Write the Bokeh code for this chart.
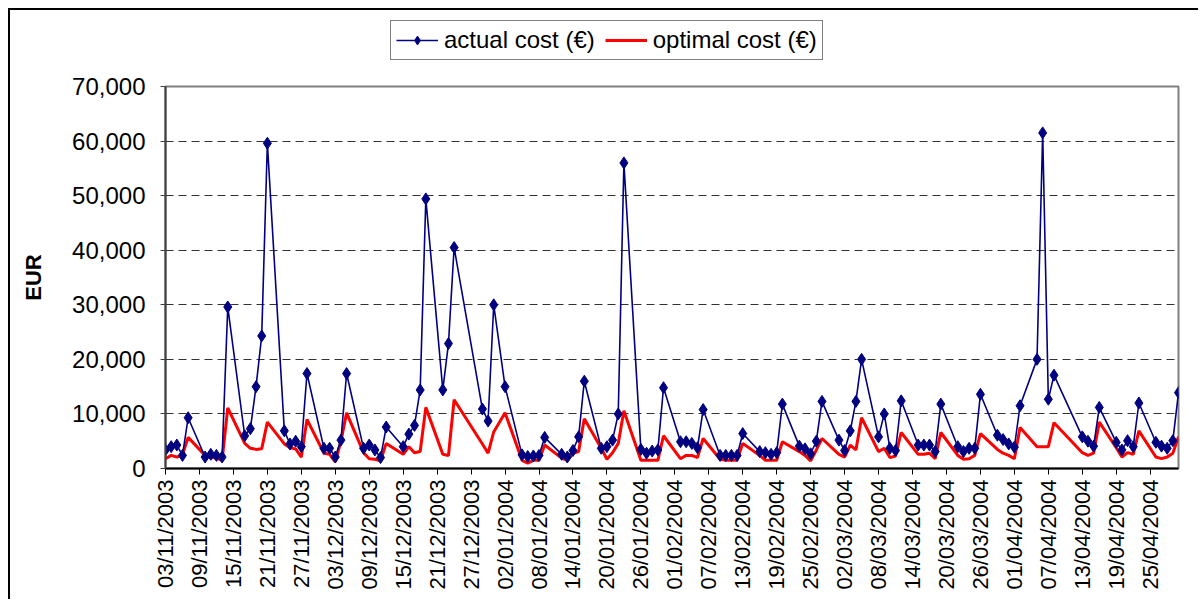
import pandas as pd
from math import pi
from bokeh.plotting import figure
from bokeh.layouts import column
from bokeh.models import (Range1d, FixedTicker, NumeralTickFormatter, Legend, LegendItem,
                          ColumnDataSource)
from bokeh.embed import file_html
from bokeh.resources import INLINE

# ---------------- data ----------------
start_date = "2003-11-03"
end_date = "2004-04-30"
holidays = ["2003-12-25", "2003-12-26", "2004-01-01", "2004-04-09", "2004-04-12"]

tick_labels = ["03/11/2003", "09/11/2003", "15/11/2003", "21/11/2003", "27/11/2003",
               "03/12/2003", "09/12/2003", "15/12/2003", "21/12/2003", "27/12/2003",
               "02/01/2004", "08/01/2004", "14/01/2004", "20/01/2004", "26/01/2004",
               "01/02/2004", "07/02/2004", "13/02/2004", "19/02/2004", "25/02/2004",
               "02/03/2004", "08/03/2004", "14/03/2004", "20/03/2004", "26/03/2004",
               "01/04/2004", "07/04/2004", "13/04/2004", "19/04/2004", "25/04/2004"]

# actual cost (thousand EUR), one value per working day
actual_k = [
    3.4, 4.0, 4.3, 2.4, 9.3,
    2.1, 2.6, 2.4, 2.1, 29.6,
    6.0, 7.3, 15.0, 24.3, 59.6,
    6.9, 4.5, 5.0, 4.0, 17.4,
    3.7, 3.7, 2.1, 5.2, 17.4,
    3.7, 4.3, 3.4, 2.0, 7.6,
    4.0, 6.3, 7.9, 14.4, 49.4,
    14.4, 22.9, 40.5,
    10.9, 8.7, 30.0, 15.0,
    2.5, 2.2, 2.3, 2.4, 5.7,
    2.6, 2.1, 3.3, 5.8, 16.0,
    3.7, 4.0, 5.2, 10.0, 56.0,
    3.5, 2.8, 3.2, 3.4, 14.8,
    4.9, 4.9, 4.6, 3.8, 10.8,
    2.4, 2.4, 2.4, 2.4, 6.4,
    3.1, 2.9, 2.6, 2.9, 11.8,
    4.1, 3.6, 2.7, 5.0, 12.3,
    5.2, 3.3, 6.9, 12.3, 20.0,
    5.8, 10.0, 3.7, 3.3, 12.4,
    4.3, 4.3, 4.3, 3.1, 11.8,
    4.0, 3.1, 3.7, 3.7, 13.6,
    6.1, 5.3, 4.5, 3.9, 11.5,
    20.0, 61.5, 12.7, 17.1,
    5.8, 5.0, 4.1, 11.2,
    4.8, 3.4, 5.1, 4.0, 12.0,
    4.8, 4.1, 3.7, 5.1, 13.9,
]

# optimal cost (thousand EUR)
optimal_k = [
    1.8, 2.4, 2.1, 2.5, 5.7,
    2.4, 2.0, 1.9, 1.5, 11.1,
    4.6, 3.7, 3.5, 3.6, 8.5,
    4.5, 3.8, 3.6, 2.1, 9.0,
    2.8, 2.6, 1.2, 5.0, 10.2,
    2.9, 1.8, 1.7, 1.4, 4.6,
    2.6, 4.0, 2.9, 3.1, 11.2,
    2.6, 2.4, 12.6,
    4.5, 2.8, 6.7, 10.2,
    1.5, 1.0, 1.5, 1.5, 4.3,
    1.9, 1.5, 2.8, 3.1, 9.1,
    3.7, 1.7, 2.9, 4.6, 10.6,
    1.5, 1.5, 1.5, 1.5, 6.0,
    1.8, 2.4, 2.4, 2.0, 5.5,
    1.7, 1.5, 1.5, 1.5, 4.6,
    2.4, 1.5, 1.5, 1.5, 4.9,
    3.1, 2.4, 1.4, 3.4, 5.5,
    2.6, 2.1, 4.3, 3.4, 9.3,
    3.1, 3.7, 2.0, 2.3, 6.6,
    2.6, 2.6, 2.8, 1.8, 6.6,
    2.4, 1.7, 1.8, 2.4, 6.4,
    3.5, 2.8, 2.4, 1.8, 7.5,
    4.0, 4.0, 4.0, 8.4,
    2.9, 2.4, 2.8, 8.5,
    3.8, 2.1, 2.9, 2.6, 6.9,
    2.1, 1.8, 2.1, 2.8, 5.8,
]

series_labels = ["actual cost (€)", "optimal cost (€)"]
y_ticks = [0, 10000, 20000, 30000, 40000, 50000, 60000, 70000]

# ---------------- derived ----------------
t0 = pd.Timestamp(start_date)
hol = set(pd.to_datetime(holidays))
dates = [d for d in pd.bdate_range(start_date, end_date) if d not in hol]
xdays = [(d - t0).days for d in dates]
tick_pos = [(pd.to_datetime(s, format="%d/%m/%Y") - t0).days for s in tick_labels]
x_end = (pd.Timestamp(end_date) - t0).days

src = ColumnDataSource(dict(
    x=xdays,
    actual=[v * 1000 for v in actual_k],
    optimal=[v * 1000 for v in optimal_k],
))

FONT = "Liberation Sans"
NAVY = "#000080"
RED = "#FF0000"

# ---------------- legend strip ----------------
top = figure(width=1190, height=52, output_backend="svg", toolbar_location=None,
             x_axis_location=None, y_axis_location=None,
             x_range=Range1d(0, 1), y_range=Range1d(0, 1),
             min_border=0,
             styles={"margin-left": "8px", "margin-top": "8px",
                     "border-left": "2px solid black", "border-top": "2px solid black"})
top.outline_line_color = None
top.grid.visible = False
top.background_fill_color = "white"
top.border_fill_color = "white"
# legend proxies (placed outside the visible range of this strip)
lg_line = top.line(x=[5, 6], y=[5, 6], line_color=NAVY, line_width=1.6)
lg_pts = top.scatter(x=[5], y=[5], marker="diamond", size=10, fill_color=NAVY, line_color=NAVY)
lg_red = top.line(x=[5, 6], y=[5, 6], line_color=RED, line_width=3)

legend = Legend(items=[
    LegendItem(label=series_labels[0], renderers=[lg_line, lg_pts]),
    LegendItem(label=series_labels[1], renderers=[lg_red]),
], orientation="horizontal", location=(225, 2))
legend.label_text_font = FONT
legend.label_text_font_size = "24px"
legend.label_text_color = "black"
legend.border_line_color = "black"
legend.border_line_width = 1
legend.background_fill_color = "white"
legend.background_fill_alpha = 1
legend.glyph_width = 42
legend.glyph_height = 22
legend.label_standoff = 6
legend.spacing = 10
legend.padding = 5
legend.margin = 0
top.add_layout(legend, "center")

# ---------------- main chart ----------------
p = figure(width=1190, height=539, output_backend="svg", toolbar_location=None,
           x_range=Range1d(0, x_end), y_range=Range1d(0, 70000),
           min_border_left=155, min_border_right=22, min_border_top=26, min_border_bottom=131,
           styles={"margin-left": "8px", "border-left": "2px solid black"})

p.background_fill_color = "white"
p.border_fill_color = "white"
p.outline_line_color = "#808080"
p.outline_line_width = 2

p.xgrid.grid_line_color = None
p.ygrid.grid_line_color = "#333333"
p.ygrid.grid_line_dash = "8 5"
p.ygrid.grid_line_width = 1
p.ygrid.ticker = FixedTicker(ticks=y_ticks)

p.yaxis.ticker = FixedTicker(ticks=y_ticks)
p.yaxis.formatter = NumeralTickFormatter(format="0,0")
p.yaxis.axis_label = "EUR"
p.yaxis.axis_label_text_font = FONT
p.yaxis.axis_label_text_font_style = "bold"
p.yaxis.axis_label_text_font_size = "22px"
p.yaxis.axis_label_text_color = "black"
p.yaxis.axis_label_standoff = 23
p.yaxis.major_label_text_font = FONT
p.yaxis.major_label_text_font_size = "24px"
p.yaxis.major_label_text_color = "black"
p.yaxis.major_label_standoff = 15
p.yaxis.major_tick_out = 5
p.yaxis.major_tick_in = 0
p.yaxis.minor_tick_line_color = None
p.yaxis.axis_line_color = "#404040"
p.yaxis.axis_line_width = 2
p.yaxis.major_tick_line_color = "#404040"

p.xaxis.ticker = FixedTicker(ticks=tick_pos)
p.xaxis.major_label_overrides = {pos: lab for pos, lab in zip(tick_pos, tick_labels)}
p.xaxis.major_label_orientation = pi / 2
p.xaxis.major_label_text_font = FONT
p.xaxis.major_label_text_font_size = "22px"
p.xaxis.major_label_text_color = "black"
p.xaxis.major_label_standoff = 5
p.xaxis.major_tick_out = 6
p.xaxis.major_tick_in = 0
p.xaxis.minor_tick_line_color = None
p.xaxis.axis_line_color = "black"
p.xaxis.axis_line_width = 2
p.xaxis.major_tick_line_color = "black"

p.line("x", "optimal", source=src, line_color=RED, line_width=3)
p.line("x", "actual", source=src, line_color=NAVY, line_width=1.6)
p.scatter("x", "actual", source=src, marker="diamond", size=12,
          fill_color=NAVY, line_color=NAVY)

layout = column(top, p, spacing=0)

open("out.html", "w").write(file_html(layout, INLINE))
